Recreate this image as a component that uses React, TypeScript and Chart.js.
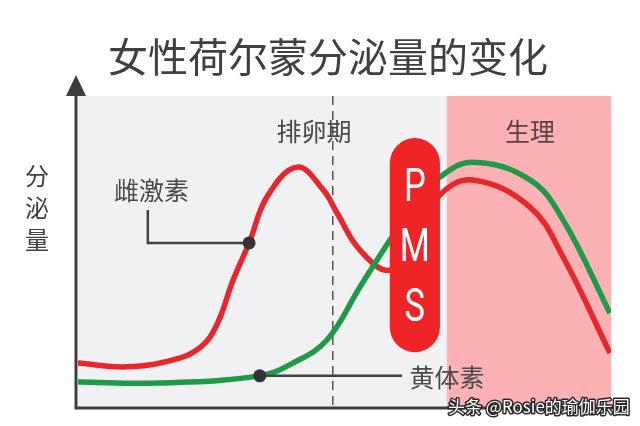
import { useEffect, useRef } from "react";
import { Chart, registerables } from "chart.js";

Chart.register(...registerables);

// ---- data ----
const chartTitle = "女性荷尔蒙分泌量的变化";
const yAxisLabel = ["分", "泌", "量"];
const ovulationLabel = "排卵期";
const periodLabel = "生理";
const pmsLetters = ["P", "M", "S"];
const estrogenName = "雌激素";
const progesteroneName = "黄体素";
const watermark = "头条 @Rosie的瑜伽乐园";

const estrogenDays = [0, 9.2, 18.0, 23.0, 26.0, 29.1, 32.1, 35.5, 41.1, 46.0, 48.6, 52.9, 58.5, 63.2, 67.9, 74.1, 84.8, 91.0, 99.8];
const estrogenValues = [14.4, 13.2, 15.5, 19.5, 26.5, 41.0, 52.9, 67.8, 77.2, 69.9, 62.5, 50.6, 44.2, 55.0, 68.3, 73.1, 64.4, 48.4, 17.6];

const progesteroneDays = [0, 15.4, 34.1, 40.3, 46.7, 52.9, 58.5, 63.2, 67.9, 74.1, 84.8, 91.0, 99.8];
const progesteroneValues = [8.3, 8.0, 10.3, 14.4, 21.8, 38.8, 53.8, 65.5, 74.0, 78.8, 73.1, 60.3, 30.4];

const ovulationDay = 47.8;
const periodStartDay = 69.2;
const pmsStartDay = 58.5;
const pmsEndDay = 67.9;
const pmsTop = 86.5;
const pmsBottom = 17.9;

const estrogenMarker = { day: 32.1, value: 52.9 };
const estrogenLeaderDay = 13.1;
const estrogenLeaderTop = 63.5;
const estrogenLabelPos = { day: 13.8, value: 69.6 };

const progesteroneMarker = { day: 34.1, value: 10.3 };
const progesteroneLeaderEnd = 60.8;
const progesteroneLabelPos = { day: 62.2, value: 9.9 };

const ovulationLabelPos = { day: 44.3, value: 88.5 };
const periodLabelPos = { day: 84.8, value: 88.5 };

const CJK = '"Noto Sans CJK SC", "Noto Sans", sans-serif';

const decorPlugin = {
  id: "decor",
  beforeDatasetsDraw(chart: any) {
    const ctx = chart.ctx;
    const { left, right, top, bottom } = chart.chartArea;
    const xs = chart.scales.x;
    const ys = chart.scales.y;
    const px = (d: number) => xs.getPixelForValue(d);
    const py = (v: number) => ys.getPixelForValue(v);
    ctx.save();
    const ps = px(periodStartDay);
    ctx.fillStyle = "#f1f1f3";
    ctx.fillRect(left, top, ps - left, bottom - top);
    ctx.fillStyle = "#fcb2b5";
    ctx.fillRect(ps, top, right - ps, bottom - top);

    ctx.strokeStyle = "#555";
    ctx.lineWidth = 1.5;
    ctx.setLineDash([9, 6]);
    ctx.beginPath();
    ctx.moveTo(px(ovulationDay), top);
    ctx.lineTo(px(ovulationDay), bottom);
    ctx.stroke();
    ctx.setLineDash([]);

    ctx.fillStyle = "#4a4a4a";
    ctx.font = `25px ${CJK}`;
    ctx.textAlign = "center";
    ctx.textBaseline = "middle";
    ctx.fillText(ovulationLabel, px(ovulationLabelPos.day), py(ovulationLabelPos.value));
    ctx.fillStyle = "#5a4244";
    ctx.fillText(periodLabel, px(periodLabelPos.day), py(periodLabelPos.value));
    ctx.restore();
  },
  afterDatasetsDraw(chart: any) {
    const ctx = chart.ctx;
    const { left, right, top, bottom } = chart.chartArea;
    const xs = chart.scales.x;
    const ys = chart.scales.y;
    const px = (d: number) => xs.getPixelForValue(d);
    const py = (v: number) => ys.getPixelForValue(v);
    ctx.save();

    // PMS pill
    const x0 = px(pmsStartDay), x1 = px(pmsEndDay);
    const y0 = py(pmsTop), y1 = py(pmsBottom);
    const r = (x1 - x0) / 2;
    ctx.fillStyle = "#ee2426";
    ctx.beginPath();
    ctx.moveTo(x0, y0 + r);
    ctx.arc(x0 + r, y0 + r, r, Math.PI, 0);
    ctx.lineTo(x1, y1 - r);
    ctx.arc(x0 + r, y1 - r, r, 0, Math.PI);
    ctx.closePath();
    ctx.fill();
    ctx.fillStyle = "#ffffff";
    ctx.font = `46px Roboto, "Liberation Sans", sans-serif`;
    ctx.textAlign = "center";
    ctx.textBaseline = "middle";
    const cx = (x0 + x1) / 2;
    const midY = (y0 + y1) / 2 + 4;
    pmsLetters.forEach((ch, i) => {
      ctx.save();
      ctx.translate(cx, midY + (i - 1) * 60);
      ctx.scale(0.75, 1);
      ctx.fillText(ch, 0, 0);
      ctx.restore();
    });

    // leaders
    ctx.strokeStyle = "#444";
    ctx.lineWidth = 2.5;
    ctx.beginPath();
    ctx.moveTo(px(estrogenMarker.day), py(estrogenMarker.value));
    ctx.lineTo(px(estrogenLeaderDay), py(estrogenMarker.value));
    ctx.lineTo(px(estrogenLeaderDay), py(estrogenLeaderTop));
    ctx.stroke();
    ctx.beginPath();
    ctx.moveTo(px(progesteroneMarker.day), py(progesteroneMarker.value));
    ctx.lineTo(px(progesteroneLeaderEnd), py(progesteroneMarker.value));
    ctx.stroke();

    ctx.fillStyle = "#333";
    [estrogenMarker, progesteroneMarker].forEach((m) => {
      ctx.beginPath();
      ctx.arc(px(m.day), py(m.value), 6.5, 0, Math.PI * 2);
      ctx.fill();
    });

    ctx.fillStyle = "#4a4a4a";
    ctx.font = `25px ${CJK}`;
    ctx.textAlign = "center";
    ctx.textBaseline = "middle";
    ctx.fillText(estrogenName, px(estrogenLabelPos.day), py(estrogenLabelPos.value));
    ctx.textAlign = "left";
    ctx.fillText(progesteroneName, px(progesteroneLabelPos.day), py(progesteroneLabelPos.value));

    // axes
    ctx.strokeStyle = "#3d3d3d";
    ctx.fillStyle = "#3d3d3d";
    ctx.lineWidth = 3;
    const ax = left - 2;
    ctx.beginPath();
    ctx.moveTo(ax, bottom + 1);
    ctx.lineTo(ax, top - 4);
    ctx.moveTo(ax - 1.5, bottom);
    ctx.lineTo(right + 6, bottom);
    ctx.stroke();
    ctx.beginPath();
    ctx.moveTo(ax, top - 21);
    ctx.lineTo(ax - 10, top);
    ctx.lineTo(ax + 10, top);
    ctx.closePath();
    ctx.fill();
    ctx.beginPath();
    ctx.moveTo(right + 12, bottom);
    ctx.lineTo(right + 2, bottom - 6);
    ctx.lineTo(right + 2, bottom + 6);
    ctx.closePath();
    ctx.fill();

    // title
    ctx.fillStyle = "#404040";
    ctx.font = `40px ${CJK}`;
    ctx.textAlign = "center";
    ctx.textBaseline = "middle";
    ctx.fillText(chartTitle, 328, 57);

    // y label
    ctx.font = `24px ${CJK}`;
    ctx.fillStyle = "#404040";
    yAxisLabel.forEach((ch, i) => {
      ctx.fillText(ch, 37, 176 + i * 32);
    });

    // watermark
    ctx.font = `17px ${CJK}`;
    ctx.textAlign = "left";
    ctx.lineWidth = 3;
    ctx.strokeStyle = "#2a2a2a";
    ctx.lineJoin = "round";
    ctx.strokeText(watermark, 448, 407);
    ctx.fillStyle = "#ffffff";
    ctx.fillText(watermark, 448, 407);

    ctx.restore();
  },
};

export default function App() {
  const ref = useRef<HTMLCanvasElement>(null);
  useEffect(() => {
    if (!ref.current) return;
    const chart = new Chart(ref.current, {
      type: "line",
      data: {
        datasets: [
          {
            label: progesteroneName,
            data: progesteroneDays.map((d, i) => ({ x: d, y: progesteroneValues[i] })),
            borderColor: "#1f9a48",
            borderWidth: 5.5,
            pointRadius: 0,
            tension: 0.4,
            fill: false,
          },
          {
            label: estrogenName,
            data: estrogenDays.map((d, i) => ({ x: d, y: estrogenValues[i] })),
            borderColor: "#e8262b",
            borderWidth: 5.5,
            pointRadius: 0,
            tension: 0.4,
            fill: false,
          },
        ],
      },
      options: {
        animation: false,
        responsive: false,
        layout: { padding: { left: 78, right: 29, top: 96, bottom: 18 } },
        scales: {
          x: { type: "linear", min: 0, max: 100, display: false },
          y: { min: 0, max: 100, display: false },
        },
        plugins: { legend: { display: false }, tooltip: { enabled: false }, title: { display: false } },
      },
      plugins: [decorPlugin],
    } as any);
    return () => chart.destroy();
  }, []);
  return (
    <div style={{ position: "absolute", left: 0, top: 0, width: 640, height: 426, background: "#fff" }}>
      <canvas ref={ref} width={640} height={426} style={{ display: "block" }} />
    </div>
  );
}
